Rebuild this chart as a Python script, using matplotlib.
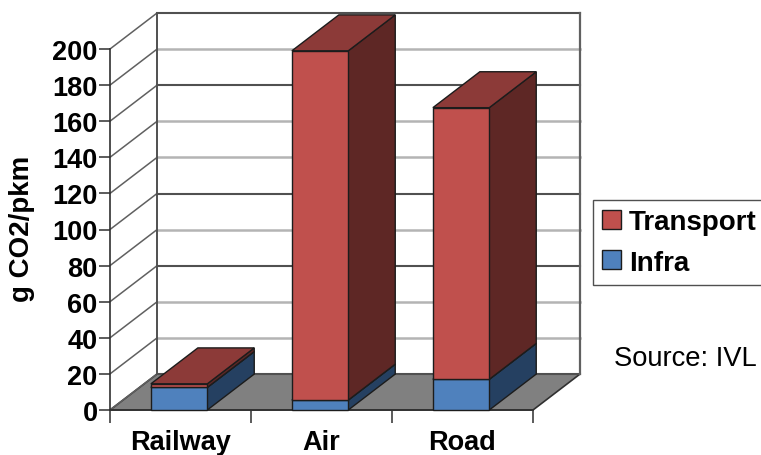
import matplotlib
matplotlib.use("Agg")
import matplotlib.pyplot as plt
from matplotlib.patches import Patch, Polygon

plt.rcParams["font.family"] = ["Liberation Sans", "DejaVu Sans"]

categories = ["Railway", "Air", "Road"]
infra = [12.5, 5.5, 17.0]
transport = [2.0, 193.5, 150.5]
y_ticks = list(range(0, 201, 20))
# Weight of each back-wall gridline, from 0 up to 200
grid_dark = [True, False, False, True, False, True, False, False, True, False, True]

RED = ("#C0504D", "#8C3A38", "#5E2725")
BLUE = ("#4F81BD", "#2F5C8C", "#254061")
EDGE = "#1c1c1c"
DEPTH_X, DEPTH_Y = 0.333, 19.9   # oblique offset of the back plane
BAR_WIDTH, BAR_CENTER = 0.40, 0.49

fig = plt.figure(figsize=(7.61, 4.56), dpi=100)
ax = fig.add_axes([110 / 761, 45 / 456, 423 / 761, 361 / 456])
ax.set_xlim(0, 3)
ax.set_ylim(0, 200)
ax.patch.set_visible(False)
for side in ("top", "right"):
    ax.spines[side].set_visible(False)
for side in ("left", "bottom"):
    ax.spines[side].set_color("#303030")
    ax.spines[side].set_linewidth(1.2)


def poly(points, face, edge=EDGE, lw=1.0, z=2):
    ax.add_patch(Polygon(points, closed=True, facecolor=face, edgecolor=edge,
                         linewidth=lw, clip_on=False, zorder=z))


# Floor
poly([(0, 0), (3, 0), (3 + DEPTH_X, DEPTH_Y), (DEPTH_X, DEPTH_Y)], "#808080", "#303030", 1.2, 1)

# Side wall and back wall gridlines
for value, dark in zip(y_ticks, grid_dark):
    color, width = ("#505050", 1.5) if dark else ("#b4b4b4", 1.8)
    ax.plot([DEPTH_X, 3 + DEPTH_X], [value + DEPTH_Y] * 2, color=color, lw=width,
            clip_on=False, zorder=1)
    ax.plot([0, DEPTH_X], [value, value + DEPTH_Y], color="#606060", lw=1.1,
            clip_on=False, zorder=1)
ax.plot([DEPTH_X] * 2, [DEPTH_Y, 200 + DEPTH_Y], color="#505050", lw=1.4, clip_on=False, zorder=1)
ax.plot([3 + DEPTH_X] * 2, [DEPTH_Y, 200 + DEPTH_Y], color="#606060", lw=1.6, clip_on=False, zorder=1)


def box(x0, x1, y0, y1, shades):
    front, top, side = shades
    poly([(x1, y0), (x1 + DEPTH_X, y0 + DEPTH_Y), (x1 + DEPTH_X, y1 + DEPTH_Y), (x1, y1)], side, z=3)
    poly([(x0, y1), (x1, y1), (x1 + DEPTH_X, y1 + DEPTH_Y), (x0 + DEPTH_X, y1 + DEPTH_Y)], top, z=3)
    poly([(x0, y0), (x1, y0), (x1, y1), (x0, y1)], front, z=3)


# Stacked bars
for i in range(len(categories)):
    x0 = i + BAR_CENTER - BAR_WIDTH / 2
    x1 = x0 + BAR_WIDTH
    box(x0, x1, 0, infra[i], BLUE)
    box(x0, x1, infra[i], infra[i] + transport[i], RED)

# Axes ticks and labels
ax.set_yticks(y_ticks)
ax.set_yticklabels([str(v) for v in y_ticks], fontsize=19.5, fontweight="bold")
ax.tick_params(axis="y", length=8, width=1.2, color="#404040", pad=1)
ax.set_xticks([0, 1, 2, 3])
ax.set_xticklabels([])
ax.tick_params(axis="x", which="major", length=9, width=1.2, color="#404040")
ax.set_xticks([i + 0.5 for i in range(3)], minor=True)
ax.set_xticklabels(categories, minor=True, fontsize=19.5, fontweight="bold")
ax.tick_params(axis="x", which="minor", length=0, pad=14)
fig.text(22 / 761, 1 - 229 / 456, "g CO2/pkm", rotation=90, fontsize=20, fontweight="bold",
         ha="center", va="center")

# Legend and source note
handles = [Patch(facecolor=RED[0], edgecolor=EDGE, label="Transport"),
           Patch(facecolor=BLUE[0], edgecolor=EDGE, label="Infra")]
fig.legend(handles=handles, loc="upper left", bbox_to_anchor=(593 / 761, 1 - 201 / 456),
           borderaxespad=0, fancybox=False, framealpha=1, edgecolor="#505050",
           prop={"size": 20, "weight": "bold"}, handlelength=0.68, handleheight=0.68,
           handletextpad=0.3, borderpad=0.32, labelspacing=0.53)
fig.text(757 / 761, 1 - 359 / 456, "Source: IVL", fontsize=19.7, ha="right", va="center")

fig.savefig("out.png", dpi=100)
